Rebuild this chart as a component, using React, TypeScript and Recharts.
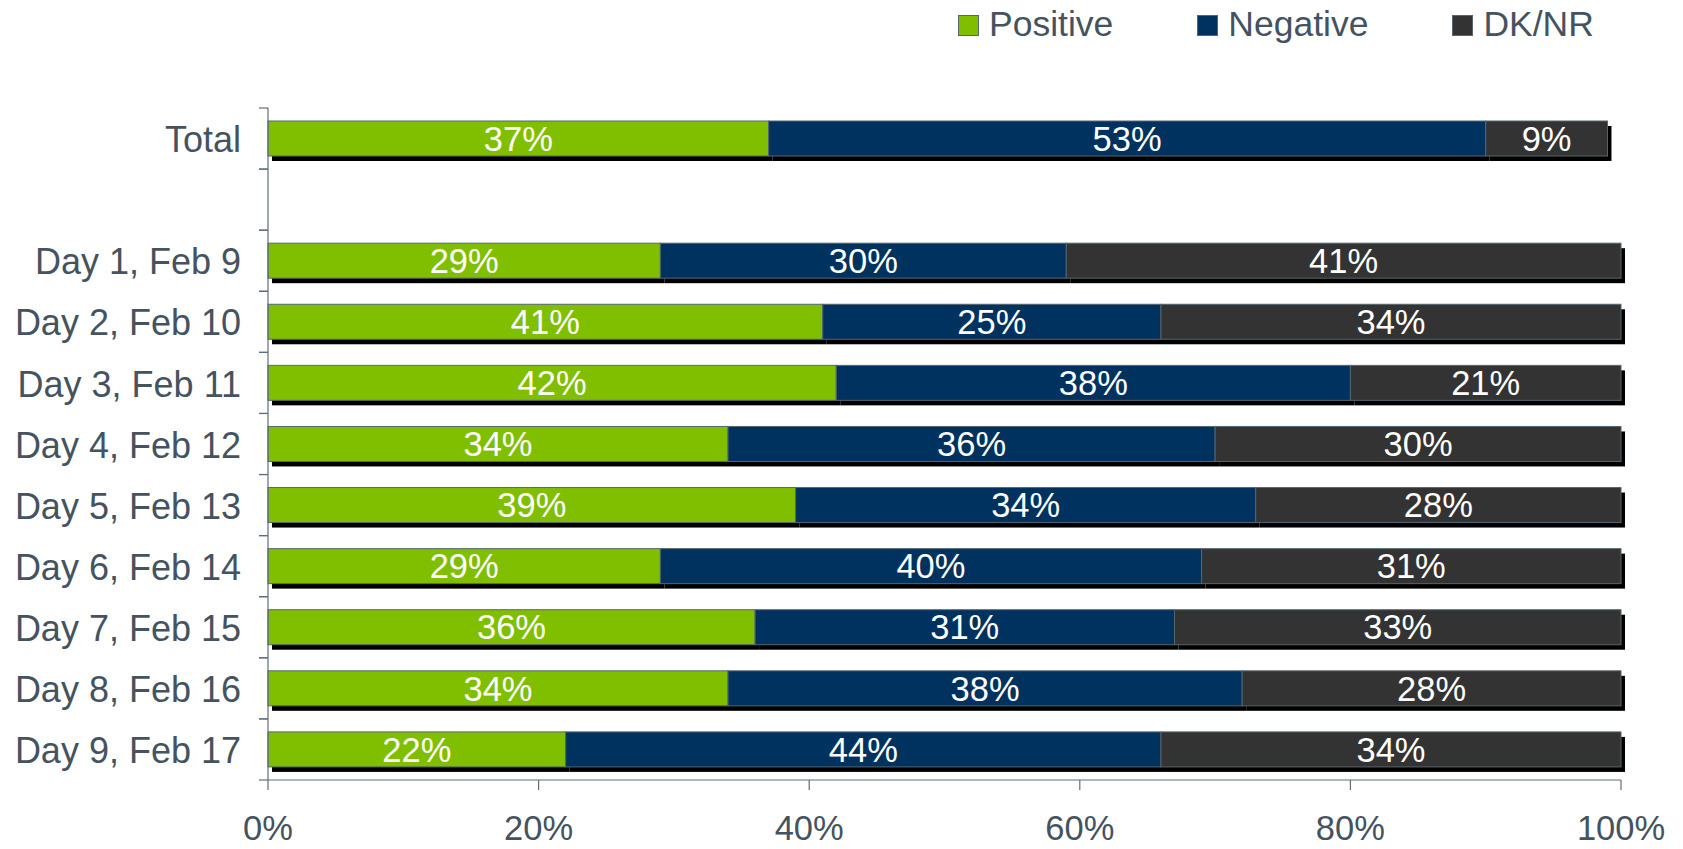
import React from 'react';
import { BarChart, Bar, XAxis, YAxis, LabelList, Legend } from 'recharts';

const categories = [
  'Total',
  '',
  'Day 1, Feb 9',
  'Day 2, Feb 10',
  'Day 3, Feb 11',
  'Day 4, Feb 12',
  'Day 5, Feb 13',
  'Day 6, Feb 14',
  'Day 7, Feb 15',
  'Day 8, Feb 16',
  'Day 9, Feb 17',
];
const positive = [37, null, 29, 41, 42, 34, 39, 29, 36, 34, 22];
const negative = [53, null, 30, 25, 38, 36, 34, 40, 31, 38, 44];
const dknr = [9, null, 41, 34, 21, 30, 28, 31, 33, 28, 34];
const xTicks = [0, 20, 40, 60, 80, 100];
const seriesNames = ['Positive', 'Negative', 'DK/NR'];

const data = categories.map((name, i) => ({
  name,
  positive: positive[i],
  negative: negative[i],
  dknr: dknr[i],
}));

const W = 1683;
const H = 849;
const MARGIN = { top: 58, right: 62, bottom: 9, left: 8 };
const LEGEND_H = 50;
const YAXIS_W = 260;
const XAXIS_H = 60;
const PLOT_LEFT = MARGIN.left + YAXIS_W;
const PLOT_H = H - MARGIN.top - LEGEND_H - MARGIN.bottom - XAXIS_H;
const HALF_BAND = PLOT_H / categories.length / 2;

const FONT = '"Liberation Sans", Arial, Helvetica, sans-serif';
const FONT_SIZE = 34.5;
const YLABEL_SIZE = 36;
const LEGEND_SIZE = 35.5;
const TEXT = '#44535F';
const AXIS = '#5F6E79';
const STROKE = '#56666F';
const COLORS = ['#7FBF00', '#00325F', '#333333'];

const ShadowBar = (props: any) => {
  const { x, y, width, height, fill } = props;
  if (!width || !height || width <= 0) return null;
  return (
    <g>
      <rect x={x + 4} y={y + 5} width={width} height={height} fill="#000000" />
      <rect x={x} y={y} width={width} height={height} fill={fill} stroke={STROKE} strokeWidth={1} />
    </g>
  );
};

const YTick = (props: any) => {
  const { y, payload } = props;
  const half = payload && typeof payload.offset === 'number' && payload.offset > 0 ? payload.offset : HALF_BAND;
  return (
    <g>
      <line x1={PLOT_LEFT - 9} x2={PLOT_LEFT} y1={y - half} y2={y - half} stroke={AXIS} strokeWidth={1.2} />
      <line x1={PLOT_LEFT - 9} x2={PLOT_LEFT} y1={y + half} y2={y + half} stroke={AXIS} strokeWidth={1.2} />
      <text
        x={PLOT_LEFT - 27}
        y={y + 1}
        dy="0.35em"
        textAnchor="end"
        fill={TEXT}
        fontSize={YLABEL_SIZE}
        fontFamily={FONT}
      >
        {payload.value}
      </text>
    </g>
  );
};

const LegendContent = (props: any) => {
  const raw = props.payload || [];
  const items = seriesNames
    .map((n) => raw.find((p: any) => p.value === n))
    .filter(Boolean);
  return (
    <div
      style={{
        height: LEGEND_H,
        width: W,
        display: 'flex',
        alignItems: 'center',
        paddingLeft: 958,
        boxSizing: 'border-box',
        fontFamily: FONT,
        fontSize: LEGEND_SIZE,
        color: TEXT,
      }}
    >
      {items.map((it: any, i: number) => (
        <div key={i} style={{ display: 'flex', alignItems: 'center', marginRight: 84 }}>
          <div
            style={{
              width: 21,
              height: 21,
              background: it.color,
              border: `1px solid ${STROKE}`,
              boxSizing: 'border-box',
              marginRight: 10,
            }}
          />
          <span style={{ lineHeight: 1 }}>{it.value}</span>
        </div>
      ))}
    </div>
  );
};

const fmt = (v: any) => (v === null || v === undefined ? '' : `${v}%`);

const keys = ['positive', 'negative', 'dknr'];

export default function App() {
  return (
    <div style={{ position: 'absolute', left: 0, top: 0, width: W, height: H, background: '#fff' }}>
      <style>{`.recharts-wrapper svg [clip-path]{clip-path:none !important;}`}</style>
      <BarChart width={W} height={H} data={data} layout="vertical" margin={MARGIN}>
        <Legend
          verticalAlign="top"
          align="left"
          content={<LegendContent />}
          wrapperStyle={{ left: 0, top: 0, width: W, height: LEGEND_H }}
        />
        <XAxis
          type="number"
          domain={[0, 100]}
          allowDataOverflow
          ticks={xTicks}
          tickFormatter={(v: number) => `${v}%`}
          height={XAXIS_H}
          tickSize={10}
          tickMargin={26}
          axisLine={{ stroke: AXIS, strokeWidth: 1.2 }}
          tickLine={{ stroke: AXIS, strokeWidth: 1.2 }}
          tick={{ fill: TEXT, fontSize: FONT_SIZE, fontFamily: FONT }}
        />
        <YAxis
          type="category"
          dataKey="name"
          width={YAXIS_W}
          tickLine={false}
          axisLine={{ stroke: AXIS, strokeWidth: 1.2 }}
          tick={<YTick />}
          interval={0}
        />
        {keys.map((k, i) => (
          <Bar
            key={k}
            dataKey={k}
            name={seriesNames[i]}
            stackId="a"
            fill={COLORS[i]}
            barSize={35}
            isAnimationActive={false}
            shape={<ShadowBar />}
          >
            <LabelList
              dataKey={k}
              position="center"
              formatter={fmt}
              fill="#FFFFFF"
              fontSize={FONT_SIZE}
              fontFamily={FONT}
            />
          </Bar>
        ))}
      </BarChart>
    </div>
  );
}
